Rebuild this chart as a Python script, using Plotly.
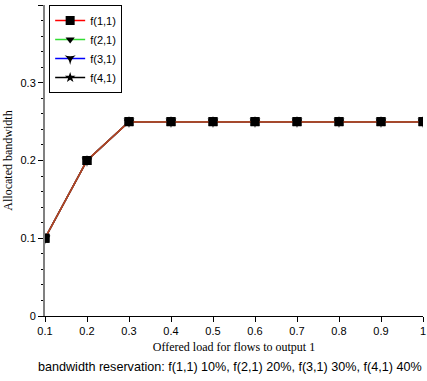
import plotly.graph_objects as go

offered_load = [0.1, 0.2, 0.3, 0.4, 0.5, 0.6, 0.7, 0.8, 0.9, 1.0]
f11 = [0.1, 0.2, 0.25, 0.25, 0.25, 0.25, 0.25, 0.25, 0.25, 0.25]
f21 = [0.1, 0.2, 0.25, 0.25, 0.25, 0.25, 0.25, 0.25, 0.25, 0.25]
f31 = [0.1, 0.2, 0.25, 0.25, 0.25, 0.25, 0.25, 0.25, 0.25, 0.25]
f41 = [0.1, 0.2, 0.25, 0.25, 0.25, 0.25, 0.25, 0.25, 0.25, 0.25]
series_names = ["f(1,1)", "f(2,1)", "f(3,1)", "f(4,1)"]
x_tick_vals = [0.1, 0.2, 0.3, 0.4, 0.5, 0.6, 0.7, 0.8, 0.9, 1.0]
x_tick_text = ["0.1", "0.2", "0.3", "0.4", "0.5", "0.6", "0.7", "0.8", "0.9", "1"]
y_tick_vals = [0, 0.1, 0.2, 0.3, 0.4]
y_tick_text = ["0", "0.1", "0.2", "0.3", "0.4"]

styles = [
    ("square", "red", 9),
    ("triangle-down", "#33dd33", 8),
    ("star-triangle-down", "blue", 8),
    ("star", "black", 8),
]
data = [f11, f21, f31, f41]

fig = go.Figure()
order = [3, 2, 1, 0]
for i in order:
    sym, col, sz = styles[i]
    fig.add_trace(go.Scatter(
        x=offered_load, y=data[i], name=series_names[i],
        mode="lines+markers",
        line=dict(color=col, width=1.5),
        marker=dict(symbol=sym, color="black", size=sz),
        legendrank=i + 1,
    ))
fig.add_trace(go.Scatter(
    x=offered_load, y=f11, mode="lines", showlegend=False,
    line=dict(color="#a84a28", width=1.5), hoverinfo="skip",
))
fig.add_trace(go.Scatter(
    x=offered_load, y=f11, mode="markers", showlegend=False,
    marker=dict(symbol="square", color="black", size=9), hoverinfo="skip",
))

fig.update_layout(
    width=427, height=381,
    margin=dict(l=45, r=4, t=5, b=65),
    paper_bgcolor="white", plot_bgcolor="white",
    font=dict(family="Liberation Sans, Arial", size=11, color="black"),
    showlegend=True,
    legend=dict(
        x=0.011, y=1.0, xanchor="left", yanchor="top",
        bordercolor="black", borderwidth=1, bgcolor="white",
        font=dict(size=11), itemwidth=30, tracegroupgap=0,
    ),
    xaxis=dict(
        range=[0.1, 1.0], tickvals=x_tick_vals, ticktext=x_tick_text,
        showgrid=False, zeroline=False, showline=True, linecolor="black", linewidth=1,
        ticks="outside", ticklen=5, tickcolor="black", ticklabeloverflow="allow",
        title=dict(text="Offered load for flows to output 1",
                   font=dict(family="Liberation Serif, Times New Roman", size=12), standoff=6),
        automargin=False,
    ),
    yaxis=dict(
        range=[0, 0.4], tickvals=y_tick_vals, ticktext=y_tick_text,
        showgrid=False, zeroline=False, showline=True, linecolor="#808080", linewidth=2,
        ticks="outside", ticklen=5, tickcolor="black",
        minor=dict(dtick=0.02, ticks="outside", ticklen=2, tickcolor="black", showgrid=False),
        title=dict(text="Allocated bandwidth",
                   font=dict(family="Liberation Serif, Times New Roman", size=12), standoff=5),
        automargin=False,
    ),
    annotations=[dict(
        text="bandwidth reservation: f(1,1) 10%, f(2,1) 20%, f(3,1) 30%, f(4,1) 40%",
        xref="paper", yref="paper", x=0.49, y=-0.165, xanchor="center", yanchor="middle",
        showarrow=False, font=dict(size=12.6),
    )],
)

fig.write_html("out.html", config={"displayModeBar": False},
               post_script="document.body.style.margin='0';document.body.style.overflow='hidden';")
